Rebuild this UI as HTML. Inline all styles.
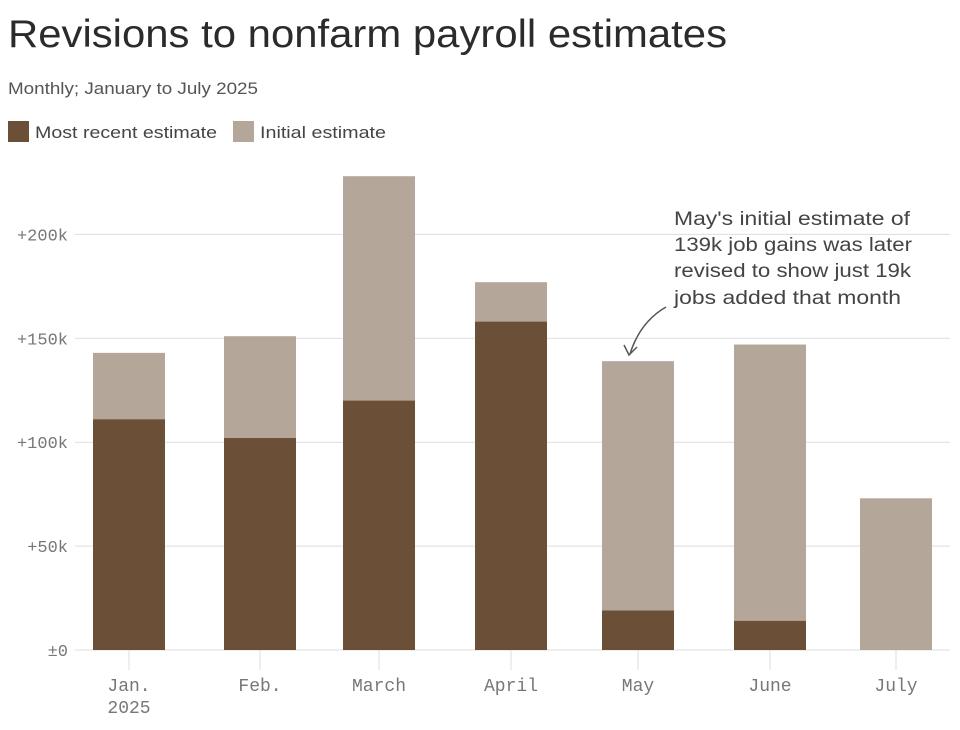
<!DOCTYPE html>
<html><head><meta charset="utf-8"><style>
body{margin:0;background:#fff;width:960px;height:730px;overflow:hidden;font-family:"Liberation Sans",sans-serif;}
svg{position:absolute;left:0;top:0}
</style></head><body>
<svg id="c" width="960" height="730">
<text x="8" y="47" font-size="39" fill="#2b2b2b" textLength="719" lengthAdjust="spacingAndGlyphs">Revisions to nonfarm payroll estimates</text>
<text x="8" y="94" font-size="17" fill="#555" textLength="250" lengthAdjust="spacingAndGlyphs">Monthly; January to July 2025</text>
<g>
<rect x="8" y="121" width="21" height="21" fill="#6b4f36"/>
<text x="35" y="138" font-size="17" fill="#444" textLength="182" lengthAdjust="spacingAndGlyphs">Most recent estimate</text>
<rect x="233" y="121" width="21" height="21" fill="#b4a699"/>
<text x="260" y="138" font-size="17" fill="#444" textLength="126" lengthAdjust="spacingAndGlyphs">Initial estimate</text>
</g>
<g id="grid"></g><g id="bars"></g><g id="xax"></g>
<g font-size="19" fill="#444">
<text x="674" y="225" textLength="236" lengthAdjust="spacingAndGlyphs">May's initial estimate of</text>
<text x="674" y="251" textLength="238" lengthAdjust="spacingAndGlyphs">139k job gains was later</text>
<text x="674" y="277" textLength="237" lengthAdjust="spacingAndGlyphs">revised to show just 19k</text>
<text x="674" y="304" textLength="227" lengthAdjust="spacingAndGlyphs">jobs added that month</text>
<path d="M666 307 Q640 322 630 354" fill="none" stroke="#555" stroke-width="1.5"/>
<path d="M624 345 L629 355 L637 347" fill="none" stroke="#555" stroke-width="1.5"/>
</g>
</svg>
<script>
const categories=["Jan.|2025","Feb.","March","April","May","June","July"];
const initialVals=[143,151,228,177,139,147,73];
const recentVals=[111,102,120,158,19,14,0];
const ticks=[0,50,100,150,200];
const tickLabels=["±0","+50k","+100k","+150k","+200k"];
const NS="http://www.w3.org/2000/svg";
const y=v=>650-v*2.078;
const centers=[129,260,379,511,638,770,896];
const x=i=>centers[i];
function mk(tag,attrs,parent){const e=document.createElementNS(NS,tag);for(const k in attrs)e.setAttribute(k,attrs[k]);parent.appendChild(e);return e;}
const grid=document.getElementById('grid'),bars=document.getElementById('bars'),xax=document.getElementById('xax');
ticks.forEach((t,i)=>{
 const l=mk('line',{x1:75,x2:950,y1:y(t),y2:y(t),stroke:'#ddd','stroke-width':1},grid);
 
 
 const tx=mk('text',{x:68,y:y(t)+6,'text-anchor':'end','font-size':17,fill:'#777','font-family':'Liberation Mono, monospace'},grid);
 tx.textContent=tickLabels[i];
 
 
});
categories.forEach((c,i)=>{
 const bi=mk('rect',{x:x(i)-36,width:72,y:y(initialVals[i]),height:y(0)-y(initialVals[i]),fill:'#b4a699'},bars);
 
 
 if(recentVals[i]>0){
 const br=mk('rect',{x:x(i)-36,width:72,y:y(recentVals[i]),height:y(0)-y(recentVals[i]),fill:'#6b4f36'},bars);
 
 }
 const tk=mk('line',{x1:x(i),x2:x(i),y1:650,y2:670,stroke:'#ddd'},xax);
 
 
 const parts=c.split('|');
 parts.forEach((p,j)=>{
  const t=mk('text',{x:x(i),y:691+j*22,'text-anchor':'middle','font-size':18,fill:'#777','font-family':'Liberation Mono, monospace'},xax);
  t.textContent=p;
  
  
 });
});
</script>
</body></html>
